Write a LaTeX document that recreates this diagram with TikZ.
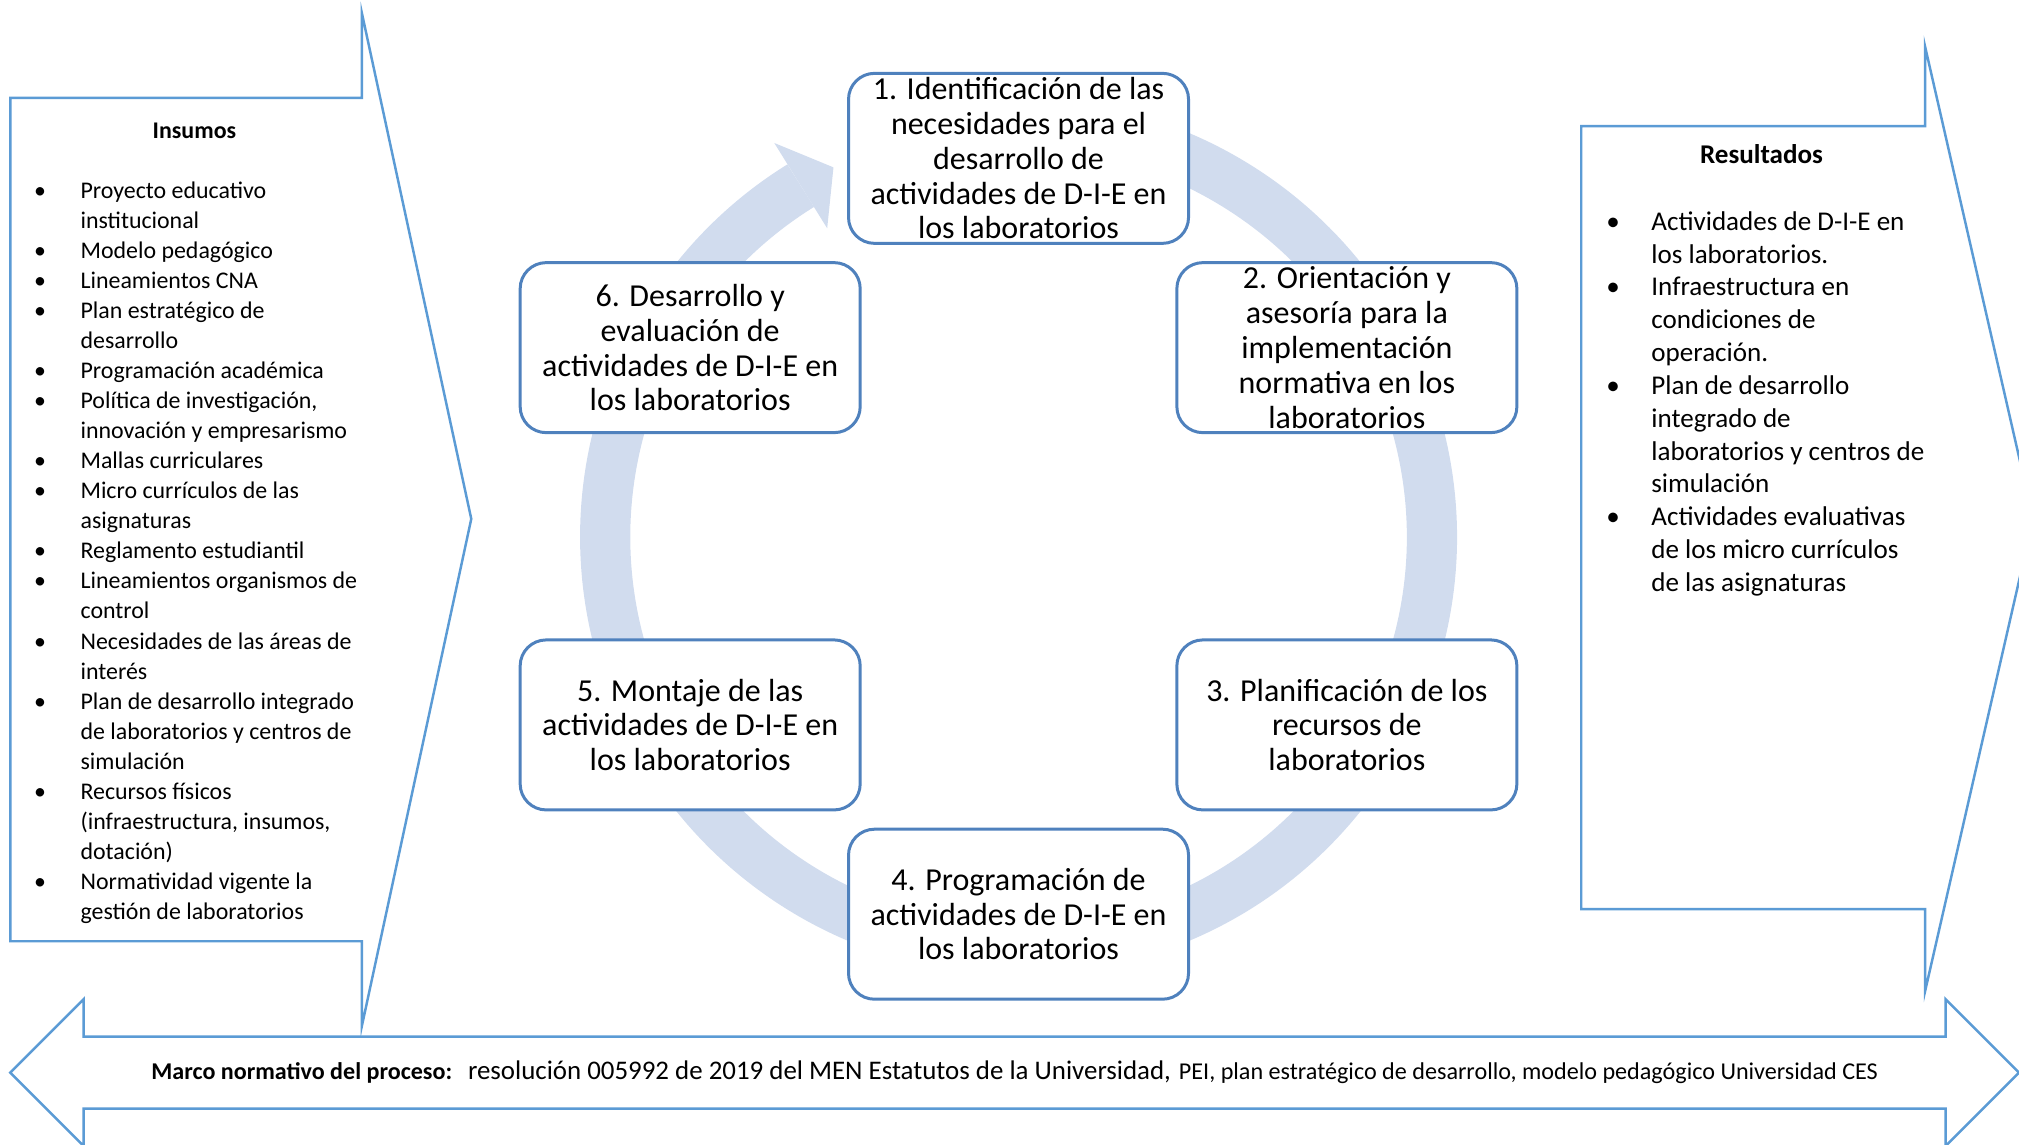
\documentclass[tikz,border=0pt]{standalone}
\usepackage{fontspec}
\setmainfont{Carlito}
\usepackage{tikz}
\usetikzlibrary{positioning}
\definecolor{bordeazul}{RGB}{91,155,213}
\definecolor{cajaazul}{RGB}{79,129,189}
\definecolor{anillo}{RGB}{209,220,238}
\newcommand{\letracaja}{\fontsize{9.1}{9.9}\selectfont}
\newcommand{\letraizq}{\fontsize{6.8}{8.54}\selectfont}
\newcommand{\letrader}{\fontsize{7.7}{9.34}\selectfont}

\begin{document}
\begin{tikzpicture}[x=0.12876mm,y=0.12876mm,
paso/.style={draw=cajaazul,line width=0.85pt,fill=white,rounded corners=2.6mm,minimum width=34mm,minimum height=17mm,inner sep=0pt,align=center,font=\letracaja},
flecha/.style={draw=bordeazul,line width=0.7pt,fill=white}]
\useasboundingbox (0,0) rectangle (1568,889);

\draw[flecha] (8,813) -- (281,813) -- (281,879) -- (366,486) -- (281,92) -- (281,158) -- (8,158) -- cycle;
\draw[flecha] (1228,791) -- (1495,791) -- (1495,853) -- (1579,486) -- (1495,119) -- (1495,183) -- (1228,183) -- cycle;
\draw[flecha] (8,56) -- (65,113) -- (65,84) -- (1511,84) -- (1511,113) -- (1568,56) -- (1511,-1) -- (1511,28) -- (65,28) -- (65,-1) -- cycle;

\node[font=\letraizq\bfseries] (tinsumos) at (151,787) {Insumos};
\node[anchor=north west,inner sep=0pt,font=\letraizq] (linsumos) at (26,751.5) {%
\begin{tabular}{@{}p{4.64mm}@{}l@{}}
\textbullet & Proyecto educativo\\
 & institucional\\
\textbullet & Modelo pedagógico\\
\textbullet & Lineamientos CNA\\
\textbullet & Plan estratégico de\\
 & desarrollo\\
\textbullet & Programación académica\\
\textbullet & Política de investigación,\\
 & innovación y empresarismo\\
\textbullet & Mallas curriculares\\
\textbullet & Micro currículos de las\\
 & asignaturas\\
\textbullet & Reglamento estudiantil\\
\textbullet & Lineamientos organismos de\\
 & control\\
\textbullet & Necesidades de las áreas de\\
 & interés\\
\textbullet & Plan de desarrollo integrado\\
 & de laboratorios y centros de\\
 & simulación\\
\textbullet & Recursos físicos\\
 & (infraestructura, insumos,\\
 & dotación)\\
\textbullet & Normatividad vigente la\\
 & gestión de laboratorios
\end{tabular}};

\node[font=\letrader\bfseries] (tresultados) at (1368,769) {Resultados};
\node[anchor=north west,inner sep=0pt,font=\letrader] (lresultados) at (1247,728.5) {%
\begin{tabular}{@{}p{4.5mm}@{}l@{}}
\textbullet & Actividades de D-I-E en\\
 & los laboratorios.\\
\textbullet & Infraestructura en\\
 & condiciones de\\
 & operación.\\
\textbullet & Plan de desarrollo\\
 & integrado de\\
 & laboratorios y centros de\\
 & simulación\\
\textbullet & Actividades evaluativas\\
 & de los micro currículos\\
 & de las asignaturas
\end{tabular}};

\node (marco) at (788,56) {{\fontsize{6.85}{8.4}\selectfont\bfseries Marco normativo del proceso:}\ \ {\fontsize{7.65}{9.4}\selectfont resolución 005992 de 2019 del MEN Estatutos de la Universidad,} {\fontsize{6.87}{8.4}\selectfont PEI, plan estratégico de desarrollo, modelo pedagógico Universidad CES}};

\begin{scope}[shift={(791,472)}]
\draw[anillo,line width=5.02mm] (105:321) arc[start angle=105,end angle=-238.2,radius=321];
\fill[anillo] (121.8:360) -- (116.6:321) -- (121.8:282) -- cycle;
\end{scope}

\node[paso] (p1) at (791,766) {1. Identificación de las\\necesidades para el\\desarrollo de\\actividades de D-I-E en\\los laboratorios};
\node[paso] (p2) at (1046,619) {2. Orientación y\\asesoría para la\\implementación\\normativa en los\\laboratorios};
\node[paso] (p3) at (1046,326) {3. Planificación de los\\recursos de\\laboratorios};
\node[paso] (p4) at (791,179) {4. Programación de\\actividades de D-I-E en\\los laboratorios};
\node[paso] (p5) at (536,326) {5. Montaje de las\\actividades de D-I-E en\\los laboratorios};
\node[paso] (p6) at (536,619) {6. Desarrollo y\\evaluación de\\actividades de D-I-E en\\los laboratorios};
\end{tikzpicture}
\end{document}
